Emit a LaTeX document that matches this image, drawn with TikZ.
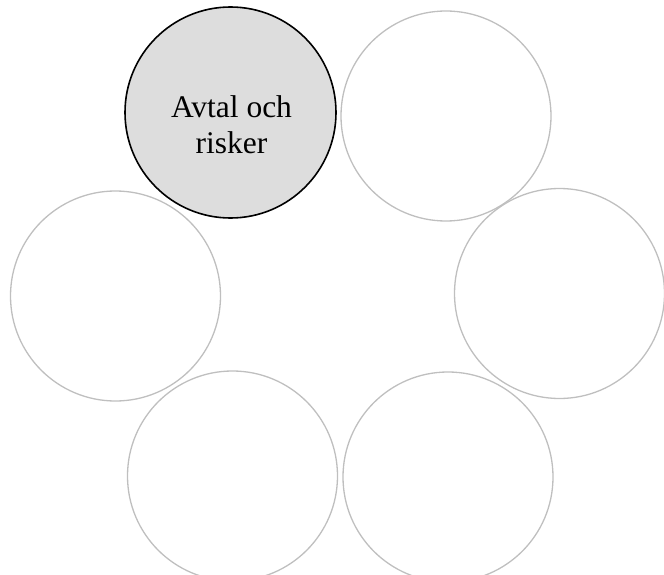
\documentclass[tikz,border=0pt]{standalone}
\usepackage{fontspec}
\setmainfont{Liberation Serif}
\definecolor{ringgray}{HTML}{BFBFBF}
\definecolor{fillgray}{HTML}{DDDDDD}
\begin{document}
\begin{tikzpicture}[x=1pt,y=-1pt,
  ring/.style={circle,draw=ringgray,line width=1.3pt,minimum size=210pt,inner sep=0pt},
  active/.style={circle,draw=black,fill=fillgray,line width=1.6pt,minimum size=211pt,inner sep=0pt},
  lbl/.style={align=center,font=\fontsize{31.5}{36}\selectfont,inner sep=0pt}]
\useasboundingbox (0,0) rectangle (664,575);
\node[active] (c1) at (230.5,112.5) {};
\node[ring] (c2) at (446,116) {};
\node[ring] (c3) at (559.5,293.5) {};
\node[ring] (c4) at (448,477) {};
\node[ring] (c5) at (232.5,476) {};
\node[ring] (c6) at (115.5,296) {};
\node[lbl] (t1) at (231.5,124.5) {Avtal och\\risker};
\end{tikzpicture}
\end{document}
